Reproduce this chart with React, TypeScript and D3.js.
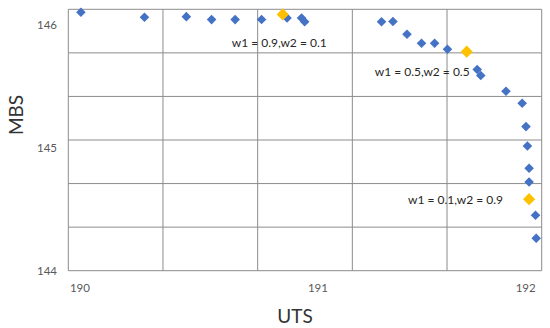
import React from 'react'
import * as d3 from 'd3'

// Pareto front points (UTS, MBS)
const utsValues = [
  190.004, 190.271, 190.447, 190.553, 190.652, 190.763, 190.870, 190.931, 190.944,
  191.267, 191.315, 191.374, 191.435, 191.490, 191.544, 191.669, 191.684, 191.790,
  191.858, 191.874, 191.880, 191.887, 191.887, 191.914, 191.917
]
const mbsValues = [
  146.106, 146.065, 146.070, 146.046, 146.046, 146.047, 146.059, 146.059, 146.029,
  146.029, 146.031, 145.927, 145.853, 145.853, 145.804, 145.640, 145.591, 145.462,
  145.364, 145.174, 145.016, 144.835, 144.723, 144.452, 144.264
]

// weighted solutions
const selectedUts = [190.852, 191.625, 191.887]
const selectedMbs = [146.088, 145.785, 144.583]
const selectedLabels = ['w1 = 0.9,w2 = 0.1', 'w1 = 0.5,w2 = 0.5', 'w1 = 0.1,w2 = 0.9']

const xTicks = [190, 191, 192]
const yTicks = [144, 145, 146]

const W = 550
const H = 328
const left = 68.3, right = 541.7, top = 9.3, bottom = 270.7

const App = () => {
  const x = d3.scaleLinear().domain([189.951, 191.940]).range([left, right])
  const y = d3.scaleLinear().domain([144, 146.13]).range([bottom, top])

  const xGrid = d3.range(6).map(i => left + i * (right - left) / 5)
  const yGrid = d3.range(7).map(i => top + i * (bottom - top) / 6)

  const blue = d3.symbol().type(d3.symbolSquare).size(46)
  const gold = d3.symbol().type(d3.symbolSquare).size(74)

  // label offsets from each selected point
  const labelOffsets = [[-51, 29], [-92, 20], [-121, 1]]

  const font = 'Lato, "Open Sans", sans-serif'

  return (
    <svg width={W} height={H} style={{position: 'absolute', left: 0, top: 0, background: '#fff'}}>
      <g stroke="#8c8c8c" strokeWidth={1}>
        {xGrid.map((gx, i) => (
          <line key={'gx' + i} x1={gx} x2={gx} y1={top} y2={bottom} />
        ))}
        {yGrid.map((gy, i) => (
          <line key={'gy' + i} x1={left} x2={right} y1={gy} y2={gy} />
        ))}
      </g>

      {xTicks.map((t, i) => {
        const last = i === xTicks.length - 1
        return (
          <text key={'xt' + t}
            x={last ? right - 6 : x(t)} y={292}
            textAnchor={last ? 'end' : 'middle'}
            fontFamily={font} fontSize={11.5} fill="#595959">{t}</text>
        )
      })}
      {yTicks.map(t => (
        <text key={'yt' + t} x={57} y={y(t) + 4} textAnchor="end"
          fontFamily={font} fontSize={11.5} fill="#595959">{t}</text>
      ))}

      <text x={295} y={323} textAnchor="middle" fontFamily={font} fontSize={19} fill="#333">UTS</text>
      <text transform={`translate(23,115) rotate(-90)`} textAnchor="middle"
        fontFamily={font} fontSize={19} fill="#333">MBS</text>

      {utsValues.map((u, i) => (
        <path key={'p' + i} d={blue() || ''} fill="#4472C4"
          transform={`translate(${x(u)},${y(mbsValues[i])}) rotate(45)`} />
      ))}

      {selectedUts.map((u, i) => (
        <path key={'s' + i} d={gold() || ''} fill="#FFC000"
          transform={`translate(${x(u)},${y(selectedMbs[i])}) rotate(45)`} />
      ))}

      {selectedLabels.map((label, i) => (
        <text key={'l' + i}
          x={x(selectedUts[i]) + labelOffsets[i][0]}
          y={y(selectedMbs[i]) + labelOffsets[i][1] + 4}
          fontFamily={font} fontSize={12} fill="#262626">{label}</text>
      ))}
    </svg>
  )
}

export default App
